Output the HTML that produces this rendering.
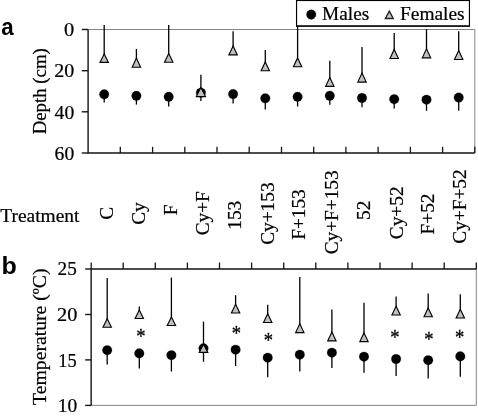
<!DOCTYPE html>
<html><head><meta charset="utf-8"><title>Figure</title>
<style>html,body{margin:0;padding:0;background:#fff}svg text{white-space:pre}</style></head>
<body>
<svg width="478" height="416" viewBox="0 0 478 416" style="display:block">
<rect width="478" height="416" fill="#fff"/>
<g font-family="'Liberation Serif', serif" font-size="19" fill="#000" stroke="#000" stroke-width="0.22">
<path d="M88.1 29.5H474.8V153.0" fill="none" stroke="#848484" stroke-width="1"/>
<path d="M88.1 29.5V153.0H474.8" fill="none" stroke="#151515" stroke-width="1.4"/>
<path d="M81.8 29.5H88.1" stroke="#151515" stroke-width="1.4"/>
<text x="64.0" y="36.0" font-size="19" textLength="10.2" lengthAdjust="spacingAndGlyphs">0</text>
<path d="M81.8 70.7H88.1" stroke="#151515" stroke-width="1.4"/>
<text x="54.2" y="77.4" font-size="19" textLength="20.0" lengthAdjust="spacingAndGlyphs">20</text>
<path d="M81.8 111.8H88.1" stroke="#151515" stroke-width="1.4"/>
<text x="54.6" y="118.7" font-size="19" textLength="19.6" lengthAdjust="spacingAndGlyphs">40</text>
<path d="M81.8 153.0H88.1" stroke="#151515" stroke-width="1.4"/>
<text x="54.6" y="159.8" font-size="19" textLength="19.6" lengthAdjust="spacingAndGlyphs">60</text>
<path d="M120.3 153.0V146.8" stroke="#151515" stroke-width="1.3"/>
<path d="M152.6 153.0V146.8" stroke="#151515" stroke-width="1.3"/>
<path d="M184.8 153.0V146.8" stroke="#151515" stroke-width="1.3"/>
<path d="M217.0 153.0V146.8" stroke="#151515" stroke-width="1.3"/>
<path d="M249.2 153.0V146.8" stroke="#151515" stroke-width="1.3"/>
<path d="M281.5 153.0V146.8" stroke="#151515" stroke-width="1.3"/>
<path d="M313.7 153.0V146.8" stroke="#151515" stroke-width="1.3"/>
<path d="M345.9 153.0V146.8" stroke="#151515" stroke-width="1.3"/>
<path d="M378.1 153.0V146.8" stroke="#151515" stroke-width="1.3"/>
<path d="M410.4 153.0V146.8" stroke="#151515" stroke-width="1.3"/>
<path d="M442.6 153.0V146.8" stroke="#151515" stroke-width="1.3"/>
<path d="M474.8 153.0V146.8" stroke="#151515" stroke-width="1.3"/>
<path d="M476.3 269.0V405.4H91.15" fill="none" stroke="#848484" stroke-width="1"/>
<path d="M476.3 269.0H91.15V405.4" fill="none" stroke="#151515" stroke-width="1.4"/>
<path d="M85.15 269.0H91.15" stroke="#151515" stroke-width="1.4"/>
<text x="57.6" y="275.0" font-size="19.8" textLength="19.2" lengthAdjust="spacingAndGlyphs">25</text>
<path d="M85.15 314.5H91.15" stroke="#151515" stroke-width="1.4"/>
<text x="57.0" y="321.1" font-size="19.8" textLength="20.3" lengthAdjust="spacingAndGlyphs">20</text>
<path d="M85.15 359.9H91.15" stroke="#151515" stroke-width="1.4"/>
<text x="58.3" y="366.8" font-size="19.8" textLength="18.4" lengthAdjust="spacingAndGlyphs">15</text>
<path d="M85.15 405.4H91.15" stroke="#151515" stroke-width="1.4"/>
<text x="57.8" y="412.2" font-size="19.8" textLength="19.5" lengthAdjust="spacingAndGlyphs">10</text>
<path d="M91.2 269.0V262.5" stroke="#151515" stroke-width="1.3"/>
<path d="M123.2 269.0V262.5" stroke="#151515" stroke-width="1.3"/>
<path d="M155.3 269.0V262.5" stroke="#151515" stroke-width="1.3"/>
<path d="M187.4 269.0V262.5" stroke="#151515" stroke-width="1.3"/>
<path d="M219.5 269.0V262.5" stroke="#151515" stroke-width="1.3"/>
<path d="M251.6 269.0V262.5" stroke="#151515" stroke-width="1.3"/>
<path d="M283.7 269.0V262.5" stroke="#151515" stroke-width="1.3"/>
<path d="M315.8 269.0V262.5" stroke="#151515" stroke-width="1.3"/>
<path d="M347.9 269.0V262.5" stroke="#151515" stroke-width="1.3"/>
<path d="M380.0 269.0V262.5" stroke="#151515" stroke-width="1.3"/>
<path d="M412.1 269.0V262.5" stroke="#151515" stroke-width="1.3"/>
<path d="M444.2 269.0V262.5" stroke="#151515" stroke-width="1.3"/>
<path d="M476.3 269.0V262.5" stroke="#151515" stroke-width="1.3"/>
<path d="M104.2 94.3V102.4" stroke="#000" stroke-width="1.3"/><circle cx="104.2" cy="94.3" r="4.8" fill="#000"/>
<path d="M104.2 25V55.1" stroke="#000" stroke-width="1.3"/><path d="M104.2 54.1L108.4 62.42H100.0Z" fill="#c0c0c0" stroke="#000" stroke-width="1.12" stroke-linejoin="miter"/>
<path d="M136.4 95.8V104.6" stroke="#000" stroke-width="1.3"/><circle cx="136.4" cy="95.8" r="4.8" fill="#000"/>
<path d="M136.4 48.9V59.1" stroke="#000" stroke-width="1.3"/><path d="M136.4 58.1L140.6 67.22H132.2Z" fill="#c0c0c0" stroke="#000" stroke-width="1.12" stroke-linejoin="miter"/>
<path d="M168.7 96.8V106.6" stroke="#000" stroke-width="1.3"/><circle cx="168.7" cy="96.8" r="4.8" fill="#000"/>
<path d="M168.7 25V54.6" stroke="#000" stroke-width="1.3"/><path d="M168.7 53.6L172.9 62.22H164.5Z" fill="#c0c0c0" stroke="#000" stroke-width="1.12" stroke-linejoin="miter"/>
<path d="M200.9 92.7V100.9" stroke="#000" stroke-width="1.3"/><circle cx="200.9" cy="92.7" r="4.8" fill="#000"/>
<path d="M200.9 74.8V88.4" stroke="#000" stroke-width="1.3"/><path d="M200.9 87.4L205.5 96.62H196.3Z" fill="#c0c0c0" stroke="#000" stroke-width="1.12" stroke-linejoin="miter"/>
<path d="M233.1 94.1V103.4" stroke="#000" stroke-width="1.3"/><circle cx="233.1" cy="94.1" r="4.8" fill="#000"/>
<path d="M233.1 31.3V47.1" stroke="#000" stroke-width="1.3"/><path d="M233.1 46.1L237.3 54.92H228.9Z" fill="#c0c0c0" stroke="#000" stroke-width="1.12" stroke-linejoin="miter"/>
<path d="M265.3 98.3V109.6" stroke="#000" stroke-width="1.3"/><circle cx="265.3" cy="98.3" r="4.8" fill="#000"/>
<path d="M265.3 50.1V62.9" stroke="#000" stroke-width="1.3"/><path d="M265.3 61.9L269.5 70.72H261.1Z" fill="#c0c0c0" stroke="#000" stroke-width="1.12" stroke-linejoin="miter"/>
<path d="M297.6 96.8V106.5" stroke="#000" stroke-width="1.3"/><circle cx="297.6" cy="96.8" r="4.8" fill="#000"/>
<path d="M297.6 25.5V58.9" stroke="#000" stroke-width="1.3"/><path d="M297.6 57.9L301.8 66.72H293.4Z" fill="#c0c0c0" stroke="#000" stroke-width="1.12" stroke-linejoin="miter"/>
<path d="M329.8 95.8V104.7" stroke="#000" stroke-width="1.3"/><circle cx="329.8" cy="95.8" r="4.8" fill="#000"/>
<path d="M329.8 60.8V78.5" stroke="#000" stroke-width="1.3"/><path d="M329.8 77.5L334.0 86.32H325.6Z" fill="#c0c0c0" stroke="#000" stroke-width="1.12" stroke-linejoin="miter"/>
<path d="M362.0 98.0V107.2" stroke="#000" stroke-width="1.3"/><circle cx="362.0" cy="98.0" r="4.8" fill="#000"/>
<path d="M362.0 47V74.0" stroke="#000" stroke-width="1.3"/><path d="M362.0 73.0L366.2 82.12H357.8Z" fill="#c0c0c0" stroke="#000" stroke-width="1.12" stroke-linejoin="miter"/>
<path d="M394.2 99.2V108.5" stroke="#000" stroke-width="1.3"/><circle cx="394.2" cy="99.2" r="4.8" fill="#000"/>
<path d="M394.2 33.1V50.4" stroke="#000" stroke-width="1.3"/><path d="M394.2 49.4L398.4 58.52H390.0Z" fill="#c0c0c0" stroke="#000" stroke-width="1.12" stroke-linejoin="miter"/>
<path d="M426.5 99.7V110.8" stroke="#000" stroke-width="1.3"/><circle cx="426.5" cy="99.7" r="4.8" fill="#000"/>
<path d="M426.5 29.3V49.8" stroke="#000" stroke-width="1.3"/><path d="M426.5 48.8L430.7 57.82H422.3Z" fill="#c0c0c0" stroke="#000" stroke-width="1.12" stroke-linejoin="miter"/>
<path d="M458.7 97.6V110.8" stroke="#000" stroke-width="1.3"/><circle cx="458.7" cy="97.6" r="4.8" fill="#000"/>
<path d="M458.7 31.2V51.6" stroke="#000" stroke-width="1.3"/><path d="M458.7 50.6L462.9 59.52H454.5Z" fill="#c0c0c0" stroke="#000" stroke-width="1.12" stroke-linejoin="miter"/>
<path d="M107.2 350.2V364.5" stroke="#000" stroke-width="1.3"/><circle cx="107.2" cy="350.2" r="4.8" fill="#000"/>
<path d="M107.2 278V319.7" stroke="#000" stroke-width="1.3"/><path d="M107.2 318.7L111.4 327.22H103.0Z" fill="#c0c0c0" stroke="#000" stroke-width="1.12" stroke-linejoin="miter"/>
<path d="M139.3 353.4V368.5" stroke="#000" stroke-width="1.3"/><circle cx="139.3" cy="353.4" r="4.8" fill="#000"/>
<path d="M139.3 306.5V311.0" stroke="#000" stroke-width="1.3"/><path d="M139.3 310.0L143.5 318.52H135.1Z" fill="#c0c0c0" stroke="#000" stroke-width="1.12" stroke-linejoin="miter"/>
<path d="M171.4 355.2V371.5" stroke="#000" stroke-width="1.3"/><circle cx="171.4" cy="355.2" r="4.8" fill="#000"/>
<path d="M171.4 277.6V318.0" stroke="#000" stroke-width="1.3"/><path d="M171.4 317.0L175.6 325.52H167.2Z" fill="#c0c0c0" stroke="#000" stroke-width="1.12" stroke-linejoin="miter"/>
<path d="M203.5 348.3V361.8" stroke="#000" stroke-width="1.3"/><circle cx="203.5" cy="348.3" r="4.8" fill="#000"/>
<path d="M203.5 321.6V345.3" stroke="#000" stroke-width="1.3"/><path d="M203.5 344.3L207.8 352.42H199.2Z" fill="#c0c0c0" stroke="#000" stroke-width="1.12" stroke-linejoin="miter"/>
<path d="M235.6 349.7V366" stroke="#000" stroke-width="1.3"/><circle cx="235.6" cy="349.7" r="4.8" fill="#000"/>
<path d="M235.6 295.2V305.2" stroke="#000" stroke-width="1.3"/><path d="M235.6 304.2L239.8 313.02H231.4Z" fill="#c0c0c0" stroke="#000" stroke-width="1.12" stroke-linejoin="miter"/>
<path d="M267.7 357.7V377.3" stroke="#000" stroke-width="1.3"/><circle cx="267.7" cy="357.7" r="4.8" fill="#000"/>
<path d="M267.7 304.7V314.7" stroke="#000" stroke-width="1.3"/><path d="M267.7 313.7L271.9 322.52H263.5Z" fill="#c0c0c0" stroke="#000" stroke-width="1.12" stroke-linejoin="miter"/>
<path d="M299.8 354.7V371.5" stroke="#000" stroke-width="1.3"/><circle cx="299.8" cy="354.7" r="4.8" fill="#000"/>
<path d="M299.8 277V324.8" stroke="#000" stroke-width="1.3"/><path d="M299.8 323.8L304.0 332.62H295.6Z" fill="#c0c0c0" stroke="#000" stroke-width="1.12" stroke-linejoin="miter"/>
<path d="M331.9 352.7V368" stroke="#000" stroke-width="1.3"/><circle cx="331.9" cy="352.7" r="4.8" fill="#000"/>
<path d="M331.9 309.5V333.1" stroke="#000" stroke-width="1.3"/><path d="M331.9 332.1L336.1 340.92H327.7Z" fill="#c0c0c0" stroke="#000" stroke-width="1.12" stroke-linejoin="miter"/>
<path d="M364.0 356.7V372.8" stroke="#000" stroke-width="1.3"/><circle cx="364.0" cy="356.7" r="4.8" fill="#000"/>
<path d="M364.0 302.7V333.9" stroke="#000" stroke-width="1.3"/><path d="M364.0 332.9L368.2 341.62H359.8Z" fill="#c0c0c0" stroke="#000" stroke-width="1.12" stroke-linejoin="miter"/>
<path d="M396.1 359V376" stroke="#000" stroke-width="1.3"/><circle cx="396.1" cy="359" r="4.8" fill="#000"/>
<path d="M396.1 296.4V307.2" stroke="#000" stroke-width="1.3"/><path d="M396.1 306.2L400.3 315.02H391.9Z" fill="#c0c0c0" stroke="#000" stroke-width="1.12" stroke-linejoin="miter"/>
<path d="M428.2 360.2V378.5" stroke="#000" stroke-width="1.3"/><circle cx="428.2" cy="360.2" r="4.8" fill="#000"/>
<path d="M428.2 293.4V308.9" stroke="#000" stroke-width="1.3"/><path d="M428.2 307.9L432.4 316.72H424.0Z" fill="#c0c0c0" stroke="#000" stroke-width="1.12" stroke-linejoin="miter"/>
<path d="M460.3 356.4V376.8" stroke="#000" stroke-width="1.3"/><circle cx="460.3" cy="356.4" r="4.8" fill="#000"/>
<path d="M460.3 294.2V310.2" stroke="#000" stroke-width="1.3"/><path d="M460.3 309.2L464.5 318.02H456.1Z" fill="#c0c0c0" stroke="#000" stroke-width="1.12" stroke-linejoin="miter"/>
<text transform="translate(141,343.1) scale(1,1.16)" text-anchor="middle" font-size="18.6" stroke="#000" stroke-width="0.28">*</text>
<text transform="translate(236.3,339.7) scale(1,1.16)" text-anchor="middle" font-size="18.6" stroke="#000" stroke-width="0.28">*</text>
<text transform="translate(268.4,347.4) scale(1,1.16)" text-anchor="middle" font-size="18.6" stroke="#000" stroke-width="0.28">*</text>
<text transform="translate(394.9,344.1) scale(1,1.16)" text-anchor="middle" font-size="18.6" stroke="#000" stroke-width="0.28">*</text>
<text transform="translate(428.8,346.1) scale(1,1.16)" text-anchor="middle" font-size="18.6" stroke="#000" stroke-width="0.28">*</text>
<text transform="translate(459.7,344.1) scale(1,1.16)" text-anchor="middle" font-size="18.6" stroke="#000" stroke-width="0.28">*</text>
<rect x="296.55" y="0.5" width="172.9" height="25.55" fill="#fff" stroke="#000" stroke-width="1.15"/>
<path d="M296 26.05H470" stroke="#000" stroke-width="1.35"/>
<circle cx="311.2" cy="14.6" r="4.8" fill="#000"/>
<text x="322.1" y="20.3" font-size="19.3">Males</text>
<path d="M389.3 11.2L393.2 18.5H385.40000000000003Z" fill="#c8c8c8" stroke="#222" stroke-width="1.4"/>
<text x="400" y="20.3" font-size="19.4">Females</text>
<text transform="translate(46.0,134.3) rotate(-90)" font-size="18.8">Depth (cm)</text>
<text transform="translate(45.7,404.9) rotate(-90)" font-size="19.7">Temperature (ºC)</text>
<text x="0.3" y="222" font-size="19.45">Treatment</text>
<text transform="translate(112.9,213.3) rotate(-90)" text-anchor="middle" font-size="19.3">C</text>
<text transform="translate(144.6,213.5) rotate(-90)" text-anchor="middle" font-size="19.3">Cy</text>
<text transform="translate(176.9,209.9) rotate(-90)" text-anchor="middle" font-size="19.3">F</text>
<text transform="translate(209.1,213.3) rotate(-90)" text-anchor="middle" font-size="19.3">Cy+F</text>
<text transform="translate(241.3,215.3) rotate(-90)" text-anchor="middle" font-size="19.3">153</text>
<text transform="translate(273.5,213.6) rotate(-90)" text-anchor="middle" font-size="19.3">Cy+153</text>
<text transform="translate(305.3,214.5) rotate(-90)" text-anchor="middle" font-size="19.3">F+153</text>
<text transform="translate(338.0,212.3) rotate(-90)" text-anchor="middle" font-size="19.3">Cy+F+153</text>
<text transform="translate(370.2,210.3) rotate(-90)" text-anchor="middle" font-size="19.3">52</text>
<text transform="translate(402.7,212.8) rotate(-90)" text-anchor="middle" font-size="19.3">Cy+52</text>
<text transform="translate(433.6,214.0) rotate(-90)" text-anchor="middle" font-size="19.3">F+52</text>
<text transform="translate(466.4,206.5) rotate(-90)" text-anchor="middle" font-size="19.3">Cy+F+52</text>
</g>
<g font-family="'Liberation Sans', sans-serif" font-weight="bold" font-size="24" fill="#000">
<text transform="translate(1.3,34.5) scale(0.94,1)" font-size="23.8">a</text><text transform="translate(1.5,273.8) scale(1.08,1)" font-size="23.2">b</text>
</g>
</svg>
</body></html>
